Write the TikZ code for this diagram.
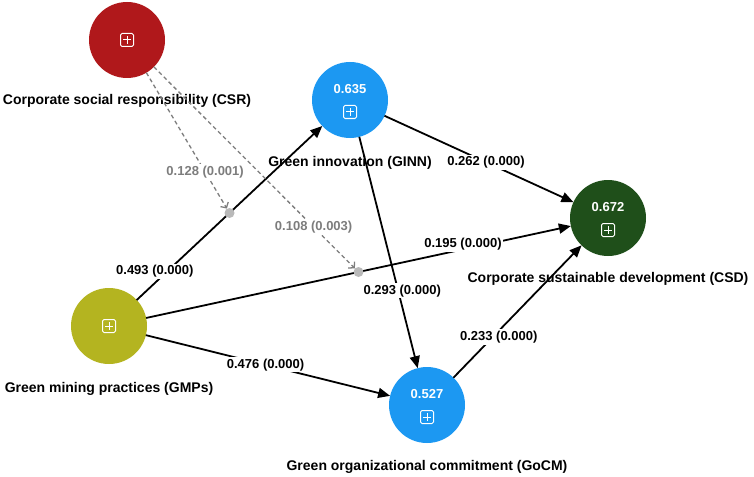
\documentclass[tikz,border=0pt]{standalone}
\usepackage{fontspec}
\setmainfont{Liberation Sans}
\usepackage{tikz}
\usetikzlibrary{arrows.meta,positioning,calc}
\definecolor{csrred}{RGB}{176,24,27}
\definecolor{ginnblue}{RGB}{28,152,242}
\definecolor{gmpolive}{RGB}{180,180,32}
\definecolor{csdgreen}{RGB}{31,79,26}
\definecolor{modgray}{RGB}{125,125,125}
\definecolor{dotgray}{RGB}{185,185,185}
\tikzset{
	costrutto/.style={circle, minimum size=76pt, inner sep=0pt, outer sep=0pt},
	etichetta/.style={font=\fontsize{14}{16}\selectfont\bfseries, inner sep=0pt},
	valore/.style={font=\fontsize{13}{15}\selectfont\bfseries, text=white, inner sep=0pt},
	coeff/.style={font=\fontsize{13}{15}\selectfont\bfseries, fill=white, inner sep=1.5pt},
	percorso/.style={line width=1.8pt, -{Triangle[length=12pt,width=10pt]}},
	moderazione/.style={modgray, line width=1.3pt, dash pattern=on 4pt off 3pt, -{Straight Barb[length=4pt,width=9pt]}},
	punto/.style={circle, fill=dotgray, minimum size=10pt, inner sep=0pt},
	pics/plusbox/.style={code={
		\draw [white, line width=1pt, rounded corners=1.5pt] (-6.5,-6.5) rectangle (6.5,6.5);
		\draw [white, line width=1pt] (-4,0) -- (4,0) (0,-4) -- (0,4);
	}}
}
\begin{document}
\begin{tikzpicture}[x=1pt,y=-1pt]
		\useasboundingbox (0,0) rectangle (754,476);
		%Costrutti
		\node [costrutto, fill=csrred] (csr) at (127,40) {};
		\node [costrutto, fill=ginnblue, label={[valore, yshift=11pt]center:0.635}] (ginn) at (350,100) {};
		\node [costrutto, fill=gmpolive] (gmp) at (109,326) {};
		\node [costrutto, fill=csdgreen, label={[valore, yshift=11pt]center:0.672}] (csd) at (608,218) {};
		\node [costrutto, fill=ginnblue, label={[valore, yshift=11pt]center:0.527}] (gocm) at (427,405) {};
		\pic at (csr) {plusbox};
		\pic at ([yshift=-12pt]ginn.center) {plusbox};
		\pic at (gmp) {plusbox};
		\pic at ([yshift=-12pt]csd.center) {plusbox};
		\pic at ([yshift=-12pt]gocm.center) {plusbox};
		%Nomi
		\node [etichetta, below=16pt of csr] (csrlbl) {Corporate social responsibility (CSR)};
		\node [etichetta, below=18pt of ginn] (ginnlbl) {Green innovation (GINN)};
		\node [etichetta, below=18pt of gmp] (gmplbl) {Green mining practices (GMPs)};
		\node [etichetta, below=16pt of csd] (csdlbl) {Corporate sustainable development (CSD)};
		\node [etichetta, below=17pt of gocm] (gocmlbl) {Green organizational commitment (GoCM)};
		%Percorsi
		\draw [percorso] (gmp) -- (ginn) node [coeff, pos=0.13, xshift=-6pt, yshift=6pt] (p1) {0.493 (0.000)};
		\draw [percorso] (gmp) -- (csd) node [coeff, pos=0.746, yshift=5pt] (p2) {0.195 (0.000)};
		\draw [percorso] (gmp) -- (gocm) node [coeff, pos=0.49] (p3) {0.476 (0.000)};
		\draw [percorso] (ginn) -- (csd) node [coeff, pos=0.537] (p4) {0.262 (0.000)};
		\draw [percorso] (ginn) -- (gocm) node [coeff, pos=0.666, xshift=4pt] (p5) {0.293 (0.000)};
		\draw [percorso] (gocm) -- (csd) node [coeff, pos=0.33, xshift=3pt, yshift=-3pt] (p6) {0.233 (0.000)};
		%Moderazione
		\node [punto] (m1) at ($(gmp)!0.5!(ginn)$) {};
		\node [punto] (m2) at ($(gmp)!0.5!(csd)$) {};
		\draw [moderazione] (csr) -- (m1) node [coeff, text=modgray, pos=0.73] (q1) {0.128 (0.001)};
		\draw [moderazione] (csr) -- (m2) node [coeff, text=modgray, pos=0.795] (q2) {0.108 (0.003)};
	\end{tikzpicture}
\end{document}
